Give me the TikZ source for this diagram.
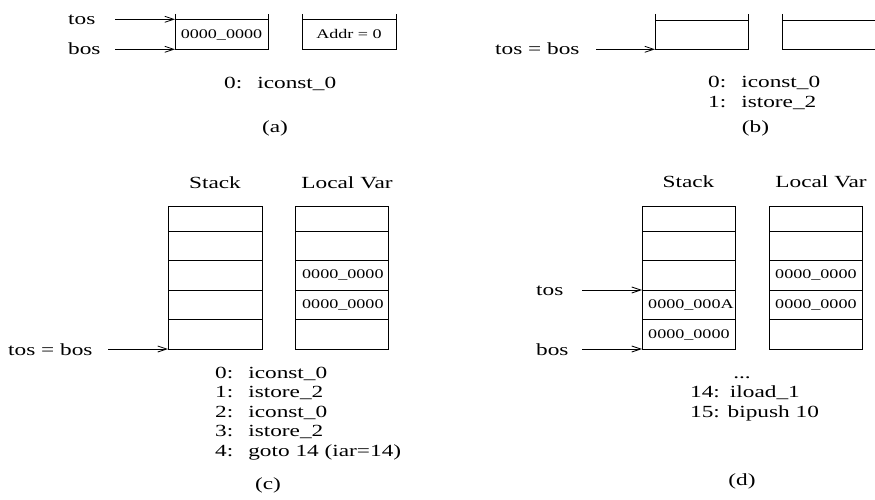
\documentclass[tikz,border=0pt]{standalone}
\usepackage{fontspec}
\setmainfont[FakeStretch=1.37]{Liberation Serif}
\usetikzlibrary{arrows.meta}
\tikzset{
  txt/.style={font=\fontsize{17}{20}\selectfont, inner sep=0pt, anchor=base west},
  txtc/.style={txt, anchor=base},
  cell/.style={font=\fontsize{13.2}{15}\selectfont, inner sep=0pt, anchor=base west},
  cellc/.style={cell, anchor=base},
  ptr/.style={line width=0.8pt, -{Straight Barb[length=9pt,width=6pt]}},
  frame/.style={line width=0.9pt}
}
\begin{document}
\begin{tikzpicture}[x=1pt,y=-1pt]
\useasboundingbox (0,0) rectangle (875,500);
% ---------------- (a)
\node[txt] (atos) at (68,25) {tos};
\node[txt] (abos) at (68,55) {bos};
\coordinate (atosS) at (115,19.3);
\coordinate (abosS) at (115,49.3);
\coordinate (aTL) at (175,19.3);
\coordinate (aBL) at (175,49.3);
\draw[frame] (175,14) -- (175,49.3) -- (268,49.3) -- (268,14);
\draw[frame] (175,19.3) -- (268,19.3);
\draw[frame] (302,14) -- (302,49.3) -- (396,49.3) -- (396,14);
\draw[frame] (302,19.3) -- (396,19.3);
\draw[ptr] (atosS) -- (aTL);
\draw[ptr] (abosS) -- (aBL);
\node[cellc] (aval) at (221.5,38.5) {0000\_0000};
\node[cellc] (aaddr) at (349,38.5) {Addr = 0};
\node[txt] (acode) at (224,88.5) {0:\hspace{15pt}iconst\_0};
\node[txtc] (acap) at (275,132) {(a)};
% ---------------- (b)
\node[txt] (btb) at (495,55) {tos = bos};
\coordinate (btbS) at (596,49.3);
\coordinate (bBL) at (655,49.3);
\draw[frame] (655,14) -- (655,49.3) -- (748,49.3) -- (748,14);
\draw[frame] (655,20) -- (748,20);
\draw[frame] (782,14) -- (782,49.3) -- (876,49.3);
\draw[frame] (782,20) -- (876,20);
\draw[ptr] (btbS) -- (bBL);
\node[txt] (bc0) at (708,88) {0:\hspace{15pt}iconst\_0};
\node[txt] (bc1) at (708,108) {1:\hspace{15pt}istore\_2};
\node[txtc] (bcap) at (755.5,132) {(b)};
% ---------------- (c)
\node[txtc] (cst) at (215,188) {Stack};
\node[txtc] (clv) at (347,188) {Local Var};
\draw[frame] (168,206) rectangle (262,349);
\foreach \yy in {231,260,290,319} \draw[frame] (168,\yy) -- (262,\yy);
\draw[frame] (295,206) rectangle (388,349);
\foreach \yy in {231,260,290,319} \draw[frame] (295,\yy) -- (388,\yy);
\node[cell] (clv3) at (302,278.5) {0000\_0000};
\node[cell] (clv4) at (302,308) {0000\_0000};
\node[txt] (ctb) at (8,355) {tos = bos};
\coordinate (ctbS) at (108,349);
\coordinate (cBL) at (168,349);
\draw[ptr] (ctbS) -- (cBL);
\node[txt] (cc0) at (215,378) {0:\hspace{15pt}iconst\_0};
\node[txt] (cc1) at (215,397.5) {1:\hspace{15pt}istore\_2};
\node[txt] (cc2) at (215,417) {2:\hspace{15pt}iconst\_0};
\node[txt] (cc3) at (215,436.5) {3:\hspace{15pt}istore\_2};
\node[txt] (cc4) at (215,456) {4:\hspace{15pt}goto 14 (iar=14)};
\node[txtc] (ccap) at (268,489) {(c)};
% ---------------- (d)
\node[txtc] (dst) at (688.5,187.5) {Stack};
\node[txtc] (dlv) at (821,187.5) {Local Var};
\draw[frame] (642,206) rectangle (735,349);
\foreach \yy in {231,260,290,319} \draw[frame] (642,\yy) -- (735,\yy);
\draw[frame] (769,206) rectangle (862,349);
\foreach \yy in {231,260,290,319} \draw[frame] (769,\yy) -- (862,\yy);
\node[cell] (ds4) at (648,308) {0000\_000A};
\node[cell] (ds5) at (648,338.5) {0000\_0000};
\node[cell] (dlv3) at (775,278.5) {0000\_0000};
\node[cell] (dlv4) at (775,308) {0000\_0000};
\node[txt] (dtos) at (536,295.7) {tos};
\node[txt] (dbos) at (536,355) {bos};
\coordinate (dtosS) at (582,290);
\coordinate (dbosS) at (582,349);
\coordinate (dT) at (642,290);
\coordinate (dB) at (642,349);
\draw[ptr] (dtosS) -- (dT);
\draw[ptr] (dbosS) -- (dB);
\node[txtc] (ddots) at (742,378) {...};
\node[txt] (dc14) at (690,397) {14:\hspace{10pt}iload\_1};
\node[txt] (dc15) at (690,417) {15: bipush 10};
\node[txtc] (dcap) at (742,485) {(d)};
\end{tikzpicture}
\end{document}
